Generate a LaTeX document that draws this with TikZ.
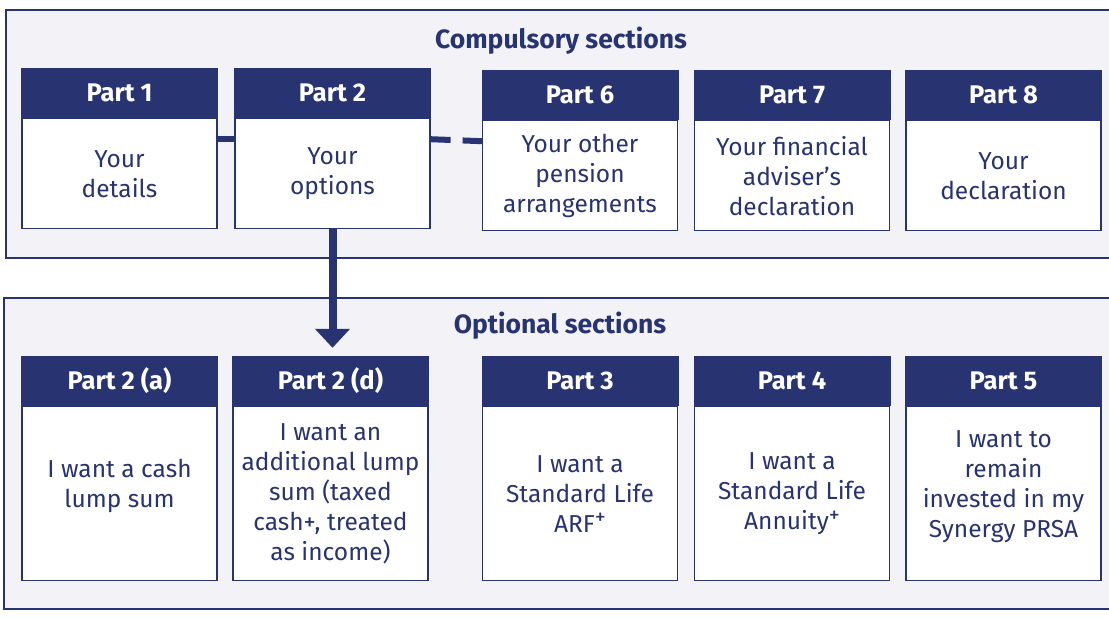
\documentclass[tikz,border=0pt]{standalone}
\usepackage{fontspec}
\setmainfont{Fira Sans}
\usetikzlibrary{positioning,arrows.meta}

\definecolor{navy}{HTML}{283371}
\definecolor{panel}{HTML}{F2F2F7}

\newcommand{\plusmark}{\smash{\raisebox{0.3em}{\fontsize{22}{22}\selectfont +}}}

\tikzset{
  parthead/.style={fill=navy, text=white, font=\bfseries\fontsize{25.5}{28}\selectfont,
    minimum width=197pt, minimum height=50pt, inner sep=0pt},
  partbody/.style={draw=navy, line width=1.2pt, fill=white, text=navy,
    font=\fontsize{24.5}{30}\selectfont, align=center, minimum width=195pt, inner sep=0pt, anchor=north},
  raised/.style={text depth=20pt},
  panelbox/.style={draw=navy, line width=1.2pt, fill=panel},
  paneltitle/.style={text=navy, font=\bfseries\fontsize{26.5}{28}\selectfont},
  link/.style={draw=navy, line width=6pt}
}

\begin{document}
\begin{tikzpicture}[x=1pt,y=-1pt]
    \useasboundingbox (0,0) rectangle (1109,619);

    % Paineis
    \draw[panelbox] (6,10) rectangle (1116,258);
    \draw[panelbox] (4,298) rectangle (1116,609);
    \node[paneltitle] (comptitle) at (561,41) {Compulsory sections};
    \node[paneltitle] (opttitle) at (560,326) {Optional sections};

    % Obrigatorias
    \node[parthead] (head1) at (119.5,93) {Part 1};
    \node[partbody, minimum height=110pt] (body1) at (head1.south) {Your\\details};
    \node[parthead] (head2) at (332.5,93) {Part 2};
    \node[partbody, minimum height=110pt] (body2) at (head2.south) {Your\\options};
    \node[parthead] (head6) at (580,95) {Part 6};
    \node[partbody, minimum height=110pt] (body6) at (head6.south) {Your other\\pension\\arrangements};
    \node[parthead] (head7) at (792,95) {Part 7};
    \node[partbody, minimum height=110pt] (body7) at (head7.south) {Your financial\\adviser’s\\declaration};
    \node[parthead] (head8) at (1003.5,95) {Part 8};
    \node[partbody, minimum height=110pt] (body8) at (head8.south) {Your\\declaration};

    % Opcionais
    \node[parthead] (head2a) at (119.5,381) {Part 2 (a)};
    \node[partbody, raised, minimum height=174pt] (body2a) at (head2a.south) {I want a cash\\lump sum};
    \node[parthead] (head2d) at (330.5,381) {Part 2 (d)};
    \node[partbody, minimum height=174pt] (body2d) at (head2d.south) {I want an\\additional lump\\sum (taxed\\cash+, treated\\as income)};
    \node[parthead] (head3) at (580,381) {Part 3};
    \node[partbody, minimum height=174pt] (body3) at (head3.south) {I want a\\Standard Life\\ARF\plusmark};
    \node[parthead] (head4) at (792,381) {Part 4};
    \node[partbody, minimum height=174pt] (body4) at (head4.south) {I want a\\Standard Life\\Annuity\plusmark};
    \node[parthead] (head5) at (1003.5,381) {Part 5};
    \node[partbody, raised, minimum height=174pt] (body5) at (head5.south) {I want to\\remain\\invested in my\\Synergy PRSA};

    % Ligacoes
    \draw[link] ([yshift=-21pt]body1.north east) -- ([yshift=-21pt]body2.north west);
    \draw[link, dash pattern=on 20pt off 12pt] ([yshift=-21pt]body2.north east) -- ([yshift=-21pt]body6.north west);
    \draw[navy, line width=8pt, -{Triangle[width=34pt,length=19pt]}] (body2.south) -- ([yshift=8pt]head2d.north -| body2.south);

\end{tikzpicture}
\end{document}
